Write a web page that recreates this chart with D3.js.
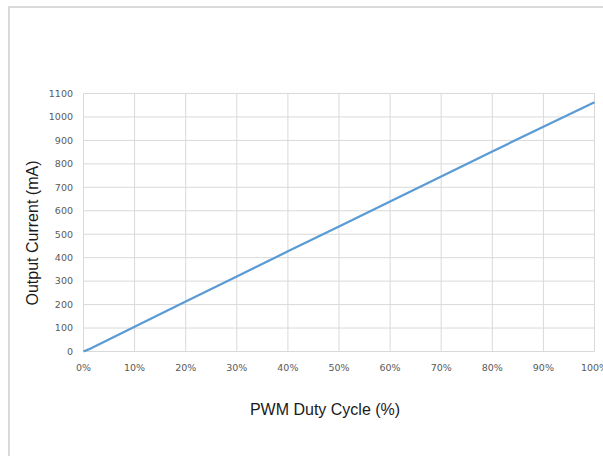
<!DOCTYPE html>
<html><head><meta charset="utf-8">
<script src="https://cdn.jsdelivr.net/npm/d3@7"></script>
<style>html,body{margin:0;padding:0;background:#fff;overflow:hidden}</style>
</head><body>
<svg id="c" width="603" height="456"></svg>
<script>
const dutyCycle = [0, 1, 10, 20, 30, 40, 50, 60, 70, 80, 90, 100];
const outputCurrent = [0, 9, 106, 213, 320, 427, 533, 640, 746, 853, 958, 1063];
const yTicks = [0,100,200,300,400,500,600,700,800,900,1000,1100];
const xTicks = [0,10,20,30,40,50,60,70,80,90,100];

const svg = d3.select("#c");
svg.append("rect").attr("x",9).attr("y",7).attr("width",620).attr("height",470)
  .attr("fill","#fff").attr("stroke","#d9d9d9").attr("stroke-width",2);

const x = d3.scaleLinear().domain([0,100]).range([83.5,594.5]);
const y = d3.scaleLinear().domain([0,1100]).range([351.5,93.5]);

const g = svg.append("g");
g.selectAll("line.h").data(yTicks).join("line").attr("class","h")
  .attr("x1",x(0)).attr("x2",x(100)).attr("y1",d=>y(d)).attr("y2",d=>y(d))
  .attr("stroke","#d9d9d9").attr("stroke-width",1);
g.selectAll("line.v").data(xTicks).join("line").attr("class","v")
  .attr("y1",y(0)).attr("y2",y(1100)).attr("x1",d=>x(d)).attr("x2",d=>x(d))
  .attr("stroke","#d9d9d9").attr("stroke-width",1);

const tickFont = "'DejaVu Sans', sans-serif";
const font = "'Liberation Sans', Arial, sans-serif";
g.selectAll("text.y").data(yTicks).join("text").attr("class","y")
  .attr("x",73).attr("y",d=>y(d)).attr("dy","0.35em").attr("text-anchor","end")
  .attr("font-family",tickFont).attr("font-size",9.5).attr("fill","#595959").text(d=>d);
g.selectAll("text.x").data(xTicks).join("text").attr("class","x")
  .attr("x",d=>x(d)).attr("y",371).attr("text-anchor","middle")
  .attr("font-family",tickFont).attr("font-size",9.5).attr("fill","#595959").text(d=>d+"%");

const line = d3.line().x((d,i)=>x(dutyCycle[i])).y(d=>y(d));
g.append("path").datum(outputCurrent).attr("d",line).attr("fill","none")
  .attr("stroke","#5b9bd5").attr("stroke-width",2.25).attr("stroke-linejoin","round");

svg.append("text").attr("transform","translate(38,233) rotate(-90)")
  .attr("text-anchor","middle").attr("font-family",font).attr("font-size",16)
  .attr("fill","#1a1a1a").text("Output Current (mA)");
svg.append("text").attr("x",325).attr("y",415).attr("text-anchor","middle")
  .attr("font-family",font).attr("font-size",16).attr("fill","#1a1a1a").text("PWM Duty Cycle (%)");
</script>
</body></html>
